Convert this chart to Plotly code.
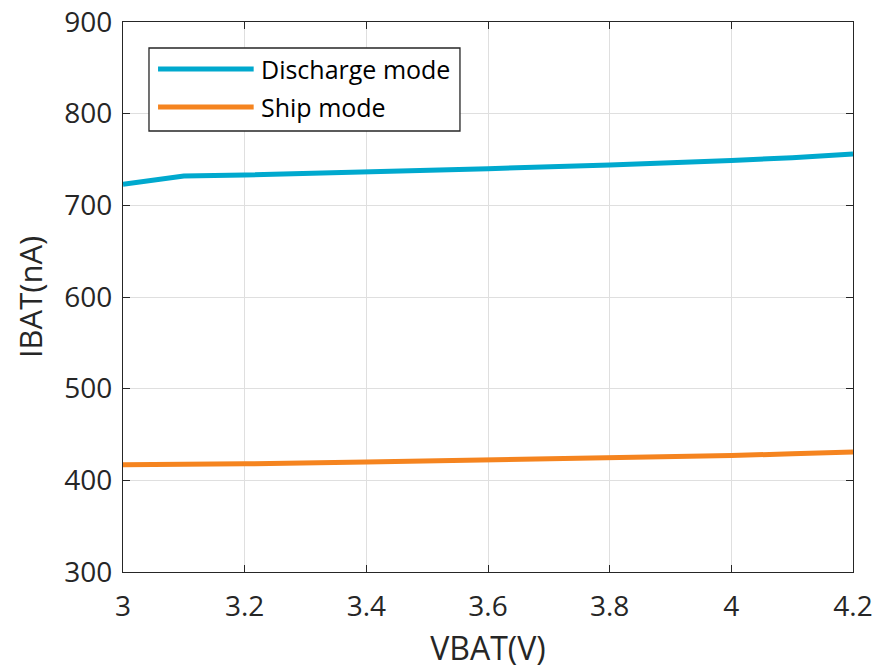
import plotly.graph_objects as go

vbat = [3.0, 3.1, 3.2, 3.4, 3.6, 3.8, 3.9, 4.0, 4.1, 4.2]
discharge = [723, 732, 733, 736, 740, 744, 746, 749, 752, 756]
ship = [417, 417, 418, 420, 422, 424, 425, 427, 429, 431]
names = ["Discharge mode", "Ship mode"]
colors = ["#00A9CE", "#F5841F"]

FONT = "Open Sans"
fig = go.Figure()
for y, n, c in zip([discharge, ship], names, colors):
    fig.add_trace(go.Scatter(x=vbat, y=y, mode="lines", name=n,
                             line=dict(color=c, width=5), showlegend=False))

axis_common = dict(showline=True, linecolor="#262626", linewidth=1.3, mirror="ticks",
                   ticks="inside", ticklen=7, tickcolor="#262626",
                   showgrid=True, gridcolor="#DFDFDF", gridwidth=1, zeroline=False,
                   ticklabeloverflow="allow", automargin=False,
                   tickfont=dict(family=FONT, size=28, color="#262626"))
fig.update_xaxes(range=[3, 4.2], tickvals=[3, 3.2, 3.4, 3.6, 3.8, 4, 4.2],
                 ticktext=["3", "3.2", "3.4", "3.6", "3.8", "4", "4.2"],
                 ticklabelstandoff=9,
                 title=dict(text="VBAT(V)", font=dict(family=FONT, size=32, color="#262626"), standoff=18),
                 **axis_common)
fig.update_yaxes(range=[300, 900], tickvals=[300, 400, 500, 600, 700, 800, 900],
                 ticklabelstandoff=4,
                 title=dict(text="IBAT(nA)", font=dict(family=FONT, size=31, color="#262626"), standoff=12),
                 **axis_common)

# manual legend (MATLAB-style long line samples)
shapes = [dict(type="rect", xref="paper", yref="paper", x0=0.0356, x1=0.4616, y0=0.8018, y1=0.9527,
               line=dict(color="#262626", width=1.3), fillcolor="white", layer="above")]
annots = []
for yy, n, c in zip([0.9145, 0.8455], names, colors):
    shapes.append(dict(type="line", xref="paper", yref="paper", x0=0.048, x1=0.179, y0=yy, y1=yy,
                       line=dict(color=c, width=5), layer="above"))
    annots.append(dict(xref="paper", yref="paper", x=0.186, y=yy, xanchor="left", yanchor="middle",
                       text=n, showarrow=False, font=dict(family=FONT, size=25, color="#000000")))

fig.update_layout(width=875, height=669, margin=dict(l=123, r=22, t=22, b=97),
                  plot_bgcolor="white", paper_bgcolor="white",
                  shapes=shapes, annotations=annots)
fig.write_html("out.html", config={"displayModeBar": False},
               post_script="document.body.style.margin='0';document.body.style.overflow='hidden';")
